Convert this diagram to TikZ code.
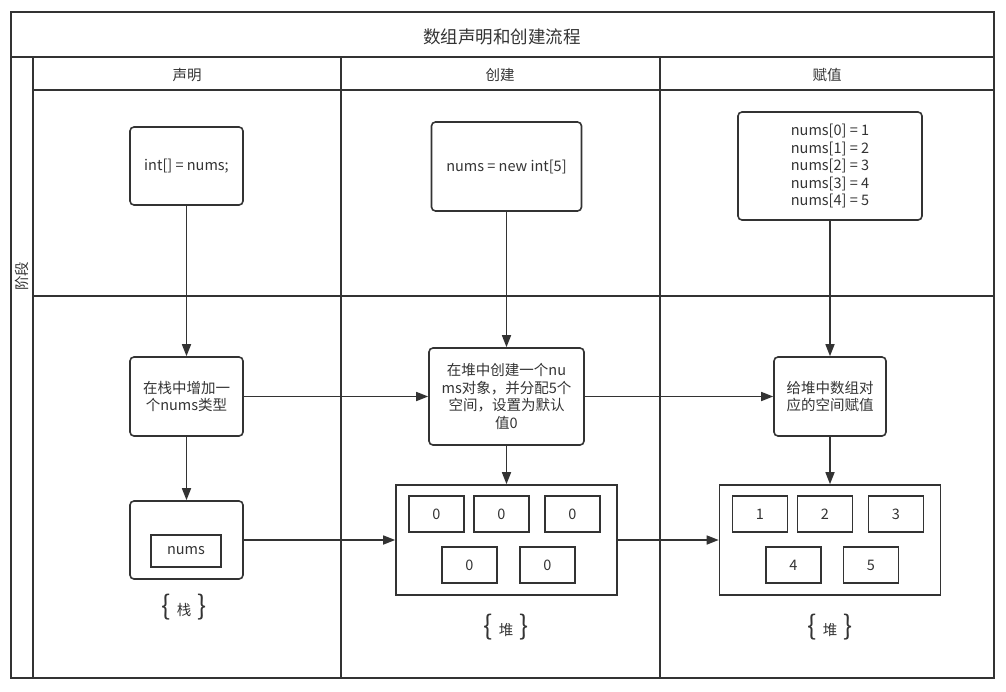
\documentclass[tikz,border=0pt]{standalone}
\usepackage{fontspec}
\setmainfont{Noto Sans CJK SC}
\usepackage{xcolor}
\usepackage{tikz}
\usetikzlibrary{arrows.meta}

\definecolor{ink}{HTML}{333333}
\newcommand{\tagbrace}[1]{{\fontsize{27}{27}\selectfont\{}\hspace{6pt}#1\hspace{6pt}{\fontsize{27}{27}\selectfont\}}}

\begin{document}
\begin{tikzpicture}[
    x=1pt, y=-1pt,
    every node/.style={text=ink, font=\fontsize{14.5}{17.5}\selectfont},
    lane/.style={draw=ink, line width=1.6pt},
    proc/.style={
        draw=ink,
        line width=1.6pt,
        rounded corners=4pt,
        inner sep=0pt,
        align=center
    },
    store/.style={draw=ink, line width=1.6pt, inner sep=0pt},
    slot/.style={store, minimum width=55pt, minimum height=36pt},
    flow/.style={-{Triangle[length=12pt,width=9pt]}, draw=ink, line width=1.5pt}
]
\useasboundingbox (0,0) rectangle (1006,691);

% swimlane frame
\draw[lane] (11,12) rectangle (994,678);
\draw[lane] (11,57) -- (994,57);
\draw[lane] (33,57) -- (33,678);
\draw[lane] (33,90) -- (994,90);
\draw[lane] (33,296) -- (994,296);
\draw[lane] (341,57) -- (341,678);
\draw[lane] (660,57) -- (660,678);

\node[font=\fontsize{17.5}{20}\selectfont] (title) at (502,37) {数组声明和创建流程};
\node (hdecl) at (187,75) {声明};
\node (hcreate) at (500,75) {创建};
\node (hassign) at (827,75) {赋值};
\node[rotate=90] (stage) at (22,276) {阶段};

% stage row
\node[proc, minimum width=113pt, minimum height=78pt] (decl) at (186.5,166) {int[] = nums;};
\node[proc, minimum width=150pt, minimum height=89pt] (create) at (506.5,166.5) {nums = new int[5]};
\node[proc, minimum width=184pt, minimum height=108pt] (assign) at (830,166)
    {nums[0] = 1\\nums[1] = 2\\nums[2] = 3\\nums[3] = 4\\nums[4] = 5};

% action row
\node[proc, minimum width=113pt, minimum height=79pt] (push) at (186.5,396.5) {在栈中增加一\\个nums类型};
\node[proc, minimum width=155pt, minimum height=97pt] (alloc) at (506.5,396.5)
    {在堆中创建一个nu\\ms对象，并分配5个\\空间，设置为默认\\值0};
\node[proc, minimum width=112pt, minimum height=79pt] (fill) at (830,396.5) {给堆中数组对\\应的空间赋值};

% memory row
\node[proc, minimum width=113pt, minimum height=78pt] (stack) at (186.5,540) {};
\node[store, minimum width=70pt, minimum height=32pt] (ref) at (186,551) {nums};

\node[store, minimum width=221pt, minimum height=110pt] (heapA) at (506.5,540) {};
\node[slot] (a1) at (436.5,514) {0};
\node[slot] (a2) at (501.5,514) {0};
\node[slot] (a3) at (572.5,514) {0};
\node[slot] (a4) at (469.5,565) {0};
\node[slot] (a5) at (547.5,565) {0};

\node[store, minimum width=221pt, minimum height=110pt] (heapB) at (830,540) {};
\node[slot] (b1) at (760,514) {1};
\node[slot] (b2) at (825,514) {2};
\node[slot] (b3) at (896,514) {3};
\node[slot] (b4) at (793.5,565) {4};
\node[slot] (b5) at (871,565) {5};

\node (tagStack) at (184,607) {\tagbrace{栈}};
\node (tagHeapA) at (506,627) {\tagbrace{堆}};
\node (tagHeapB) at (830,627) {\tagbrace{堆}};

% connectors
\draw[flow] (decl) -- (push);
\draw[flow] (create) -- (alloc);
\draw[flow] (assign) -- (fill);
\draw[flow] (push) -- (alloc);
\draw[flow] (alloc) -- (fill);
\draw[flow] (push) -- (stack);
\draw[flow] (alloc) -- (heapA);
\draw[flow] (fill) -- (heapB);
\draw[flow] (stack) -- (heapA);
\draw[flow] (heapA) -- (heapB);

\end{tikzpicture}
\end{document}
